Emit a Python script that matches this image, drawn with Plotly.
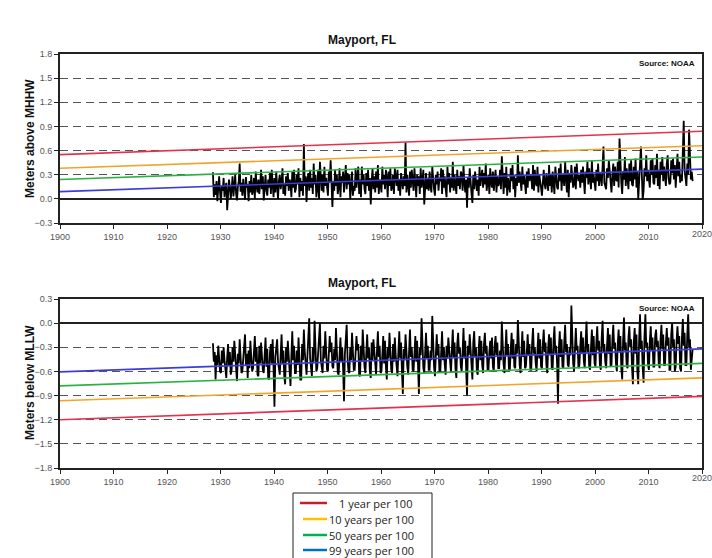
import plotly.graph_objects as go

# ---------------- data ----------------
# bimonthly samples, first sample centred at 1928.58 (values in centimetres)
start_time = 1928.583
step = 1 / 6

mhhw_cm = [
    33, 2, 18,
    5, 22, -3, 14, 28, 8,
    -5, 16, 10, 26, 2, 12,
    20, -14, 8, 24, 15, 0,
    12, 28, 3, 18, 30, 6,
    -2, 15, 22, 44, 9, 20,
    4, 25, 12, -1, 27, 14,
    18, -3, 22, 8, 30, 5,
    10, 26, 0, 34, 16, 8,
    24, 6, 18, 36, 12, 28,
    -2, 20, 30, 10, 4, 24,
    14, 32, 6, 36, 20, 2,
    26, 8, 34, 14, 0, 22,
    30, 12, 20, 38, 6, 18,
    4, 28, 16, 32, 10, 24,
    20, 2, 34, 14, 36, 8,
    12, 30, 18, 38, 2, 26,
    10, 22, 4, 68, 16, 28,
    -4, 24, 32, 10, 36, 14,
    26, 6, 44, 18, 30, 2,
    12, 36, 0, 46, 22, 10,
    30, 8, 40, 16, 26, 14,
    4, 34, 20, 48, 8, -10,
    22, 10, 36, 16, 30, 6,
    14, 38, 2, 28, 20, 34,
    8, 26, 42, 12, 32, 18,
    30, 0, 22, 34, 4, 16,
    10, 38, 14, 28, 40, 6,
    24, 2, 40, 18, 30, 12,
    6, 32, 16, 36, 10, 26,
    -7, 22, 38, 12, 28, 8,
    34, 14, 42, 6, 24, 18,
    8, 40, 18, 30, 12, 36,
    26, 2, 34, 16, 38, 10,
    14, 30, 6, 38, 22, 16,
    36, 10, 24, 4, 32, 20,
    12, 28, 16, 70, 8, 30,
    20, 4, 34, 14, 36, 18,
    10, 38, 22, 2, 30, 16,
    28, 6, 38, 14, 24, 36,
    -7, 20, 32, 12, 26, 10,
    34, 16, 8, 40, 22, 12,
    4, 30, 18, 34, 10, 26,
    22, 38, 6, 36, 14, 28,
    12, 2, 40, 18, 32, 8,
    26, 14, 46, 10, 30, 20,
    6, 36, 16, 28, 12, 34,
    30, 10, 42, 20, 8, 24,
    -11, 26, 14, 38, 18, 6,
    -5, 30, 12, 34, 22, 10,
    24, 4, 40, 16, 28, 36,
    14, 32, 18, 44, 10, 26,
    30, 6, 38, 20, 14, 34,
    10, 24, 36, 8, 28, 16,
    20, 36, 12, 53, 24, 6,
    32, 14, 40, 4, 26, 18,
    8, 38, 22, 42, 12, 30,
    2, 26, 16, 54, 20, 34,
    24, 10, 40, 18, 30, 12,
    6, 34, 14, 38, 22, 28,
    30, 12, 42, 10, 36, 20,
    16, 40, 8, 30, 24, 14,
    4, 28, 36, 18, 12, 32,
    22, 10, 42, 16, 30, 8,
    34, 18, 6, 40, 26, 14,
    12, 38, 22, 44, 10, 30,
    28, 16, 46, 20, 8, 36,
    2, 32, 20, 42, 24, 14,
    18, 40, 12, 44, 28, 22,
    30, 14, 36, 20, 40, 16,
    6, 34, 26, 46, 18, 38,
    24, 12, 48, 20, 30, 14,
    10, 36, 22, 44, 16, 32,
    28, 16, 40, 65, 20, 14,
    12, 38, 26, 48, 34, 18,
    8, 30, 44, 16, 40, 24,
    22, 46, 14, 75, 28, 20,
    6, 34, 24, 52, 16, 38,
    26, 12, 44, 22, 48, 18,
    16, 40, 24, 50, 14, 34,
    -1, 30, 44, 65, 20, -1,
    10, 38, 28, 54, 22, 36,
    24, 14, 48, 30, 50, 20,
    18, 42, 26, 56, 16, 36,
    12, 46, 30, 52, 22, 40,
    28, 16, 44, 54, 26, 18,
    20, 48, 32, 50, 24, 42,
    14, 38, 56, 28, 46, 20,
    30, 22, 50, 97, 36, 22,
    16, 44, 30, 86, 40, 24,
    34, 22,
]

mllw_cm = [
    -25, -48, -36,
    -70, -40, -52, -28, -44, -60,
    -62, -34, -50, -30, -46, -56,
    -68, -42, -26, -52, -36, -64,
    -58, -30, -48, -22, -40, -54,
    -72, -38, -50, -20, -44, -62,
    -60, -46, -28, -14, -52, -38,
    -68, -34, -56, -22, -42, -60,
    -56, -40, -16, -48, -30, -64,
    -66, -28, -50, -24, -46, -58,
    -62, -44, -18, -54, -32, -68,
    -70, -36, -26, -50, -20, -56,
    -104, -42, -30, -20, -48, -60,
    -64, -38, -14, -50, -34, -66,
    -76, -30, -48, -22, -42, -58,
    -78, -40, -10, -46, -28, -62,
    -62, -34, -52, -18, -44, -70,
    -70, -26, -46, -8, -36, -58,
    -64, -40, -20, 6, -44, -54,
    -66, -30, -48, 3, -38, -60,
    -56, -36, -22, 0, -46, -52,
    -62, -28, -44, -10, -34, -58,
    -60, -42, -16, -36, -24, -54,
    -56, -32, -46, -6, -40, -62,
    -64, -26, -18, -48, -30, -56,
    -97, -38, -24, -2, -44, -60,
    -62, -30, -46, -12, -36, -58,
    -58, -40, -16, -34, -26, -64,
    -66, -28, -48, -8, -42, -54,
    -62, -36, -14, -44, -30, -60,
    -68, -24, -46, -20, -38, -56,
    -64, -34, -10, -42, -28, -62,
    -60, -40, -16, -50, -22, -54,
    -70, -30, -44, -12, -36, -58,
    -62, -26, -48, -18, -40, -56,
    -66, -36, -10, -44, -24, -60,
    -88, -32, -46, -14, -38, -54,
    -64, -28, -8, -42, -30, -58,
    -60, -38, -16, -48, -22, -52,
    -88, -30, -40, 6, -36, -56,
    -62, -26, -12, -44, -28, -58,
    -58, -34, -46, 9, -32, -54,
    -66, -24, -14, -40, -26, -60,
    -60, -36, -10, -46, -30, -52,
    -64, -28, -44, -18, -34, -58,
    -62, -32, -8, -42, -24, -56,
    -68, -26, -12, -38, -30, -54,
    -60, -36, -6, -44, -22, -58,
    -90, -28, -40, -14, -34, -56,
    -70, -24, -10, -42, -30, -60,
    -64, -34, -16, -46, -22, -52,
    -62, -26, -12, -38, -28, -58,
    -58, -36, -22, -44, -18, -54,
    -60, -28, -16, -40, -24, -56,
    -56, -34, -46, 2, -30, -52,
    -62, -22, -8, -40, -26, -58,
    -58, -32, -12, -44, -20, -54,
    -56, -26, -38, 4, -28, -52,
    -62, -30, -10, -42, -22, -56,
    -54, -36, -14, -40, -26, -58,
    -58, -24, -6, -38, -30, -50,
    -60, -32, -12, -44, -20, -54,
    -56, -26, -8, -36, -24, -52,
    -62, -30, -14, -40, -18, -56,
    -58, -22, -4, -38, -28, -50,
    -100, -30, -10, -42, -20, -54,
    -56, -24, -2, -36, -26, -52,
    -54, -30, -40, 22, -22, -50,
    -60, -20, -6, -34, -28, -56,
    -52, -28, -10, -38, -18, -48,
    -56, -22, 2, -36, -26, -54,
    -58, -30, -8, -40, -16, -50,
    -54, -24, -4, -34, -22, -52,
    -58, -18, 3, -36, -26, -48,
    -56, -28, -6, -38, -14, -54,
    -52, -20, -2, -32, -24, -50,
    -60, -26, -8, -36, -16, -56,
    -70, -22, 7, -34, -24, -52,
    -56, -18, -4, -30, -20, -54,
    -76, -24, -6, -38, -14, -60,
    -76, -20, 11, -32, -22, -56,
    -74, -16, 11, -30, -24, -52,
    -58, -22, -4, -34, -18, -54,
    -54, -16, -8, -30, -22, -50,
    -56, -20, -2, -32, -14, -52,
    -52, -24, -6, -28, -18, -58,
    -58, -14, 0, -30, -20, -60,
    -54, -22, -4, -26, -16, -56,
    -60, -18, 5, -28, -12, -52,
    -52, -14, 11, -30, -20, -58,
    -48, -32,
]

trend_years = [1900, 2020]
top_red = [0.55, 0.84]
top_orange = [0.38, 0.66]
top_green = [0.24, 0.52]
top_blue = [0.09, 0.37]
bot_red = [-1.20, -0.91]
bot_orange = [-0.965, -0.68]
bot_green = [-0.78, -0.50]
bot_blue = [-0.605, -0.32]

legend_labels = ["1 year per 100", "10 years per 100", "50 years per 100", "99 years per 100"]
x_ticks = list(range(1900, 2021, 10))
top_yticks = [-0.3, 0.0, 0.3, 0.6, 0.9, 1.2, 1.5, 1.8]
bot_yticks = [-1.8, -1.5, -1.2, -0.9, -0.6, -0.3, 0.0, 0.3]

# ---------------- figure ----------------
W, H = 712, 558
line_colors = ["#e3324c", "#f2a42a", "#2cb044", "#3c3cd8"]
legend_colors = ["#c0202e", "#ffc000", "#00b050", "#0070c0"]

mhhw = [v / 100 for v in mhhw_cm]
mllw = [v / 100 for v in mllw_cm]
t_top = [start_time + step * i for i in range(len(mhhw))]
t_bot = [start_time + step * i for i in range(len(mllw))]

fig = go.Figure()
fig.add_trace(go.Scatter(x=t_top, y=mhhw, mode="lines", line=dict(color="black", width=1.8),
                         showlegend=False, xaxis="x", yaxis="y"))
fig.add_trace(go.Scatter(x=t_bot, y=mllw, mode="lines", line=dict(color="black", width=1.8),
                         showlegend=False, xaxis="x2", yaxis="y2"))

for vals, c in zip([top_red, top_orange, top_green, top_blue], line_colors):
    fig.add_trace(go.Scatter(x=trend_years, y=vals, mode="lines", line=dict(color=c, width=1.6),
                             showlegend=False, xaxis="x", yaxis="y"))
for vals, c in zip([bot_red, bot_orange, bot_green, bot_blue], line_colors):
    fig.add_trace(go.Scatter(x=trend_years, y=vals, mode="lines", line=dict(color=c, width=1.6),
                             showlegend=False, xaxis="x2", yaxis="y2"))

xdom = [60 / W, 702 / W]
top_dom = [1 - 223 / H, 1 - 54 / H]
bot_dom = [1 - 468 / H, 1 - 299 / H]

tickfont = dict(family="Liberation Sans, Arial", size=9, color="#555555")
common_x = dict(range=[1900, 2020], tickvals=x_ticks, showgrid=False, zeroline=False,
                showline=True, linecolor="#222222", linewidth=2, mirror=True,
                ticks="outside", ticklen=4, tickcolor="#222222", tickfont=tickfont,
                automargin=False)
common_y = dict(showgrid=True, gridcolor="#555555", gridwidth=1.2, griddash="8px,5px",
                zeroline=True, zerolinecolor="#222222", zerolinewidth=1.5,
                showline=True, linecolor="#222222", linewidth=2, mirror=True,
                ticks="outside", ticklen=4, tickcolor="#222222", tickfont=tickfont,
                tickformat=".1f", automargin=False)

fig.update_layout(
    width=W, height=H,
    margin=dict(l=0, r=0, t=0, b=0),
    paper_bgcolor="white", plot_bgcolor="white",
    showlegend=False,
    xaxis=dict(domain=xdom, anchor="y", **common_x),
    xaxis2=dict(domain=xdom, anchor="y2", **common_x),
    yaxis=dict(domain=top_dom, anchor="x", range=[-0.3, 1.8], tickvals=top_yticks, **common_y),
    yaxis2=dict(domain=bot_dom, anchor="x2", range=[-1.8, 0.3], tickvals=bot_yticks, **common_y),
)

label_font = dict(family="Liberation Sans, Arial", size=12, color="#111111")
for txt, yy in [("<b>Meters above MHHW</b>", 139), ("<b>Meters below MLLW</b>", 383)]:
    fig.add_annotation(text=txt, xref="paper", yref="paper", x=30 / W, y=1 - yy / H,
                       showarrow=False, textangle=-90, font=label_font,
                       xanchor="center", yanchor="middle")

# the right-most year label sits on the page edge, as in the original
for yy in [234, 478]:
    fig.add_annotation(text="2020", xref="paper", yref="paper", x=702 / W, y=1 - yy / H,
                       showarrow=False, font=tickfont, xanchor="center", yanchor="middle")

title_font = dict(family="Liberation Sans, Arial", size=12, color="#111111")
for yy in [40, 283]:
    fig.add_annotation(text="<b>Mayport, FL</b>", xref="paper", yref="paper",
                       x=362 / W, y=1 - yy / H, showarrow=False, font=title_font,
                       xanchor="center", yanchor="middle")
src_font = dict(family="Liberation Sans, Arial", size=8, color="#111111")
for yy in [64, 308]:
    fig.add_annotation(text="<b>Source: NOAA</b>", xref="paper", yref="paper",
                       x=697 / W, y=1 - yy / H, showarrow=False, font=src_font,
                       xanchor="right", yanchor="middle")

# hand-built legend box (partly cut off by the bottom edge, as in the original)
fig.add_shape(type="rect", xref="paper", yref="paper",
              x0=293 / W, x1=432 / W, y0=-0.05, y1=1 - 493 / H,
              line=dict(color="#222222", width=1), fillcolor="white")
row_y = [503, 519, 535, 550]
line_x0 = [300, 303, 303, 303]
text_x = [337, 327, 327, 327]
for lab, c, yy, lx0, tx in zip(legend_labels, legend_colors, row_y, line_x0, text_x):
    fig.add_shape(type="line", xref="paper", yref="paper",
                  x0=lx0 / W, x1=327 / W, y0=1 - yy / H, y1=1 - yy / H,
                  line=dict(color=c, width=2.5))
    fig.add_annotation(text=lab, xref="paper", yref="paper", x=tx / W, y=1 - yy / H,
                       showarrow=False, xanchor="left", yanchor="middle",
                       font=dict(family="Open Sans, Noto Sans", size=11, color="#222222"))

fig.write_html("out.html")
